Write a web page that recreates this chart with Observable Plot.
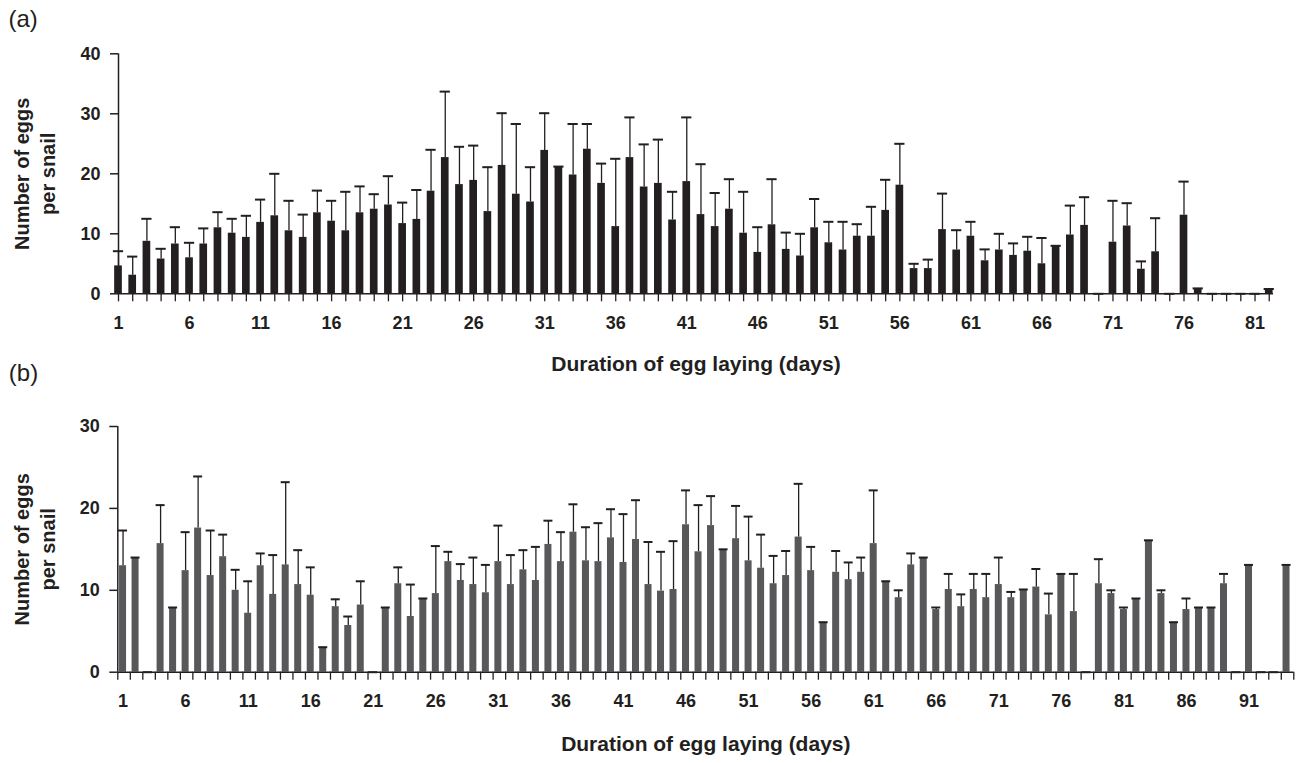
<!DOCTYPE html>
<html>
<head>
<meta charset="utf-8">
<script src="https://cdn.jsdelivr.net/npm/d3@7"></script>
<script src="https://cdn.jsdelivr.net/npm/@observablehq/plot@0.6"></script>
<style>
  body { margin: 0; background: #fff; }
  #wrap { position: relative; width: 1300px; height: 763px; background: #fff; }
  #wrap > svg { position: absolute; left: 0; }
</style>
</head>
<body>
<div id="wrap"></div>
<script>
// ---------- Panel (a) data ----------
const daysA = d3.range(1, 83);
const meanA = [
  4.65, 3.1, 8.75, 5.8, 8.3, 6.0, 8.3, 11.0, 10.1, 9.4,
  11.9, 13.0, 10.5, 9.4, 13.5, 12.1, 10.5, 13.5, 14.1, 14.8,
  11.7, 12.4, 17.1, 22.7, 18.2, 18.9, 13.7, 21.4, 16.6, 15.3,
  23.9, 21.2, 19.8, 24.1, 18.4, 11.2, 22.7, 17.8, 18.4, 12.3,
  18.7, 13.2, 11.2, 14.1, 10.1, 6.9, 11.5, 7.4, 6.3, 11.0,
  8.5, 7.3, 9.6, 9.6, 13.9, 18.1, 4.2, 4.2, 10.7, 7.3,
  9.6, 5.5, 7.3, 6.4, 7.1, 5.0, 8.0, 9.8, 11.4, 0,
  8.6, 11.3, 4.1, 7.0, 0, 13.1, 0.8, 0, 0, 0,
  0, 0.8
];
const seA = [
  2.45, 3.1, 3.75, 1.7, 2.8, 2.5, 2.6, 2.6, 2.4, 3.6,
  3.8, 7.0, 5.0, 3.8, 3.7, 3.4, 6.5, 4.4, 2.5, 4.8,
  3.5, 4.9, 6.9, 11.0, 6.3, 5.8, 7.4, 8.7, 11.7, 5.8,
  6.2, 0, 8.5, 4.2, 3.3, 11.3, 6.7, 7.1, 7.3, 4.7,
  10.7, 8.4, 5.6, 5.0, 6.9, 4.2, 7.6, 2.8, 3.7, 4.8,
  3.5, 4.7, 2.0, 4.9, 5.1, 6.9, 0.8, 1.5, 6.0, 3.3,
  2.4, 1.9, 2.7, 2.0, 2.4, 4.3, 0, 4.9, 4.7, 0,
  6.9, 3.8, 1.3, 5.6, 0, 5.6, 0.1, 0, 0, 0,
  0, 0
];
const labelDaysA = [1, 6, 11, 16, 21, 26, 31, 36, 41, 46, 51, 56, 61, 66, 71, 76, 81];
const yTicksA = [0, 10, 20, 30, 40];

// ---------- Panel (b) data ----------
const daysB = d3.range(1, 95);
const meanB = [
  13.0, 14.0, 0, 15.7, 7.9, 12.4, 17.6, 11.8, 14.1, 10.0,
  7.2, 13.0, 9.5, 13.1, 10.7, 9.4, 3.05, 8.0, 5.7, 8.2,
  0, 7.9, 10.8, 6.8, 9.0, 9.6, 13.5, 11.2, 10.7, 9.7,
  13.5, 10.7, 12.5, 11.2, 15.6, 13.5, 17.1, 13.6, 13.5, 16.4,
  13.4, 16.2, 10.7, 9.9, 10.1, 18.0, 14.7, 17.9, 15.0, 16.3,
  13.6, 12.7, 10.8, 11.8, 16.5, 12.4, 6.1, 12.2, 11.3, 12.2,
  15.7, 11.1, 9.1, 13.1, 14.0, 7.65, 10.1, 8.0, 10.1, 9.1,
  10.7, 9.1, 10.1, 10.4, 7.0, 12.0, 7.4, 0, 10.8, 9.6,
  7.65, 9.0, 16.1, 9.6, 6.1, 7.65, 7.9, 7.9, 10.8, 0,
  13.1, 0, 0, 13.1
];
const seB = [
  4.3, 0, 0, 4.7, 0, 4.7, 6.3, 5.5, 2.7, 2.5,
  3.9, 1.5, 4.8, 10.1, 4.2, 3.4, 0, 0.9, 1.1, 2.9,
  0, 0, 2.0, 3.9, 0, 5.8, 1.2, 2.0, 3.3, 3.4,
  4.4, 3.6, 2.4, 4.1, 2.9, 3.6, 3.4, 4.1, 4.7, 3.5,
  5.9, 4.8, 5.2, 4.8, 5.9, 4.2, 5.7, 3.6, 0, 4.0,
  5.4, 4.1, 3.4, 3.0, 6.5, 2.9, 0, 2.6, 2.1, 1.8,
  6.5, 0, 0.9, 1.4, 0, 0.25, 1.9, 1.5, 1.9, 2.9,
  3.3, 0.7, 0, 2.2, 2.6, 0, 4.6, 0, 3.0, 0.4,
  0.25, 0, 0, 0.4, 0, 1.35, 0, 0, 1.2, 0,
  0, 0, 0, 0
];
const labelDaysB = [1, 6, 11, 16, 21, 26, 31, 36, 41, 46, 51, 56, 61, 66, 71, 76, 81, 86, 91];
const yTicksB = [0, 10, 20, 30];

// ---------- shared style ----------
const ink = "#231f20";
const greyBar = "#58585a";
const fontFamily = "'Liberation Sans', Arial, Helvetica, sans-serif";
const yTitle = "Number of eggs\nper snail";
const xTitle = "Duration of egg laying (days)";

const dataA = daysA.map((d, i) => ({day: d, mean: meanA[i], se: seA[i]}));
const dataB = daysB.map((d, i) => ({day: d, mean: meanB[i], se: seB[i]}));

// ---------- Panel (a) ----------
const plotA = Plot.plot({
  width: 1300,
  height: 390,
  marginLeft: 118,
  marginRight: 27,
  marginTop: 53.3,
  marginBottom: 96.7,
  style: {fontFamily, color: ink, background: "transparent", overflow: "visible"},
  x: {type: "linear", domain: [1, 82.3], axis: null},
  y: {domain: [0, 40], axis: null},
  marks: [
    Plot.rectY(dataA.filter(d => d.mean > 0), {
      x1: d => d.day - 0.27, x2: d => d.day + 0.27, y1: 0, y2: "mean", fill: ink
    }),
    Plot.ruleX(dataA.filter(d => d.se > 0), {
      x: "day", y1: "mean", y2: d => d.mean + d.se, stroke: ink, strokeWidth: 1.3
    }),
    Plot.ruleY(dataA, {
      y: d => d.mean + d.se, x1: d => d.day - 0.36, x2: d => d.day + 0.36, stroke: ink, strokeWidth: 2
    }),
    Plot.ruleX([1], {y1: 0, y2: 40, stroke: ink, strokeWidth: 1.5}),
    Plot.ruleY([0], {x1: 1, x2: 82.3, stroke: ink, strokeWidth: 1.5}),
    Plot.axisY(yTicksA, {
      tickSize: 8, tickPadding: 10, strokeWidth: 1.5, fontSize: 18, fontWeight: "bold",
      tickFormat: d => String(d), label: null
    }),
    Plot.axisX(daysA, {tickSize: 8, strokeWidth: 1.3, tickFormat: () => "", label: null}),
    Plot.axisX(labelDaysA, {
      tickSize: 0, tickPadding: 22, fontSize: 18, fontWeight: "bold",
      tickFormat: d => String(d), label: null
    }),
    Plot.text([xTitle], {
      frameAnchor: "bottom", dy: 70, fontSize: 21, fontWeight: "bold", lineAnchor: "middle", fill: ink
    }),
    Plot.text([yTitle], {
      frameAnchor: "left", dx: -85, rotate: -90, fontSize: 20, fontWeight: "bold",
      lineHeight: 1.3, textAnchor: "middle", lineAnchor: "middle", fill: ink
    }),
    Plot.text(["(a)"], {
      frameAnchor: "top-left", dx: -110, dy: -44, fontSize: 24, textAnchor: "start",
      lineAnchor: "top", fill: ink
    })
  ]
});
plotA.style.top = "0px";

// ---------- Panel (b) ----------
const cB = d => d.day - 1 + 0.42;
const plotB = Plot.plot({
  width: 1300,
  height: 413,
  marginLeft: 117.3,
  marginRight: 6.7,
  marginTop: 76,
  marginBottom: 91.3,
  style: {fontFamily, color: ink, background: "transparent", overflow: "visible"},
  x: {type: "linear", domain: [0, 94], axis: null},
  y: {domain: [0, 30], axis: null},
  marks: [
    Plot.rectY(dataB.filter(d => d.mean > 0), {
      x1: d => d.day - 1 + 0.14, x2: d => d.day - 1 + 0.70, y1: 0, y2: "mean", fill: greyBar
    }),
    Plot.ruleX(dataB.filter(d => d.se > 0), {
      x: cB, y1: "mean", y2: d => d.mean + d.se, stroke: ink, strokeWidth: 1.3
    }),
    Plot.ruleY(dataB, {
      y: d => d.mean + d.se, x1: d => cB(d) - 0.36, x2: d => cB(d) + 0.36, stroke: ink, strokeWidth: 2
    }),
    Plot.ruleX([0], {y1: 0, y2: 30, stroke: ink, strokeWidth: 1.5}),
    Plot.ruleY([0], {x1: 0, x2: 94, stroke: ink, strokeWidth: 1.5}),
    Plot.axisY(yTicksB, {
      tickSize: 8, tickPadding: 10, strokeWidth: 1.5, fontSize: 18, fontWeight: "bold",
      tickFormat: d => String(d), label: null
    }),
    Plot.axisX(d3.range(0, 95), {tickSize: 8, strokeWidth: 1.3, tickFormat: () => "", label: null}),
    Plot.text(labelDaysB, {
      x: d => d - 1 + 0.42, frameAnchor: "bottom", dy: 22, lineAnchor: "top",
      text: d => String(d), fontSize: 18, fontWeight: "bold", fill: ink
    }),
    Plot.text([xTitle], {
      frameAnchor: "bottom", dy: 72, fontSize: 21, fontWeight: "bold", lineAnchor: "middle", fill: ink
    }),
    Plot.text([yTitle], {
      frameAnchor: "left", dx: -84, rotate: -90, fontSize: 20, fontWeight: "bold",
      lineHeight: 1.3, textAnchor: "middle", lineAnchor: "middle", fill: ink
    }),
    Plot.text(["(b)"], {
      frameAnchor: "top-left", dx: -109, dy: -63, fontSize: 24, textAnchor: "start",
      lineAnchor: "top", fill: ink
    })
  ]
});
plotB.style.top = "350px";

const wrap = document.getElementById("wrap");
wrap.appendChild(plotA);
wrap.appendChild(plotB);
</script>
</body>
</html>
